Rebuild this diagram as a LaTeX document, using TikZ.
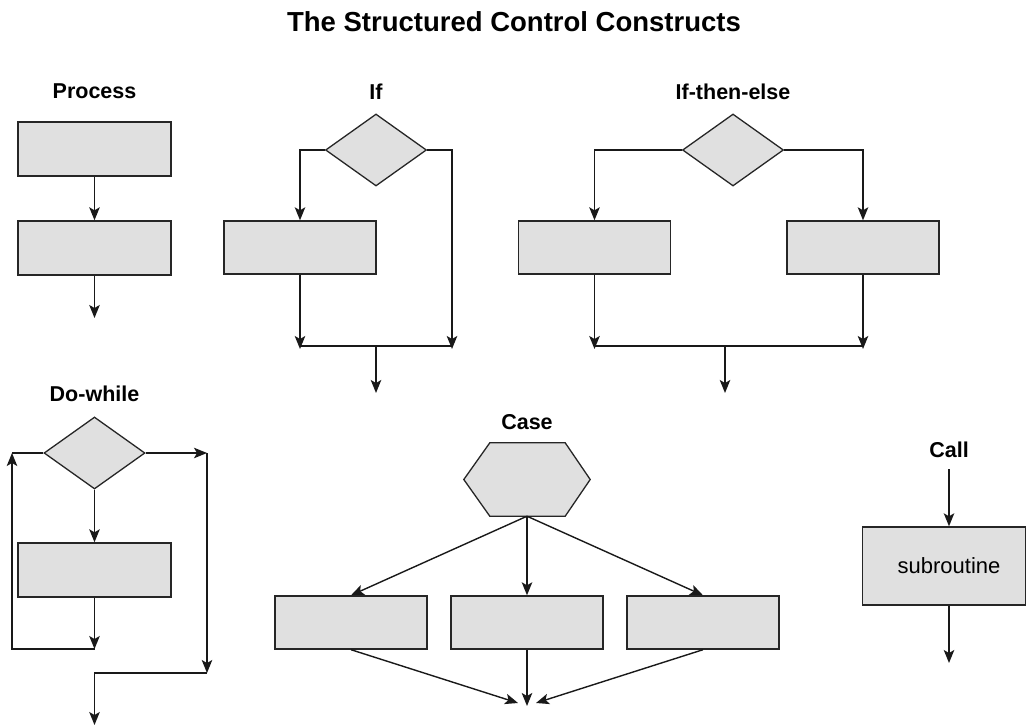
\documentclass[tikz,border=0pt]{standalone}
\usepackage{fontspec}
\setmainfont{Liberation Sans}
\usetikzlibrary{shapes.geometric,arrows.meta,calc}
\tikzset{
  box/.style={draw=black!85, fill=black!12, line width=1.4pt, inner sep=0pt, minimum width=153pt, minimum height=54pt},
  dec/.style={draw=black!85, fill=black!12, line width=1.3pt, diamond, inner sep=0pt, minimum width=101pt, minimum height=72pt},
  ln/.style={draw=black!90, line width=1.4pt},
  arr/.style={ln, -{Stealth[length=13pt,width=10.5pt,inset=3pt]}},
  ttl/.style={font=\fontsize{27.5}{30}\selectfont\bfseries, inner sep=0pt},
  lbl/.style={font=\fontsize{21.5}{24}\selectfont\bfseries, inner sep=0pt},
}
\begin{document}
\begin{tikzpicture}[x=1pt,y=-1pt]
\useasboundingbox (0,0) rectangle (1027,727);
% title
\node[ttl] (title) at (514,21.5) {The Structured Control Constructs};

% Process
\node[lbl] (lproc) at (94.5,91.5) {Process};
\node[box] (p1) at (94.5,149) {};
\node[box] (p2) at (94.5,248) {};
\coordinate (pout) at (94.5,318);
\draw[arr] (p1.south) -- (p2.north);
\draw[arr] (p2.south) -- (pout);

% If
\node[lbl] (lif) at (376,92) {If};
\node[dec] (ifd) at (376,150) {};
\node[box, minimum width=152pt, minimum height=53pt] (ifb) at (300,247.5) {};
\coordinate (ifjl) at (300,346);
\coordinate (ifjr) at (452,346);
\coordinate (ifjm) at (376,346);
\coordinate (ifout) at (376,393);
\draw[arr] (ifd.west) -| (ifb.north);
\draw[arr] (ifd.east) -| ([yshift=-3pt]ifjr);
\draw[arr] (ifb.south) -- ([yshift=-3pt]ifjl);
\draw[ln] (ifjl) -- (ifjr);
\draw[arr] (ifjm) -- (ifout);

% If-then-else
\node[lbl] (lite) at (733,92) {If-then-else};
\node[dec] (ited) at (733,150) {};
\node[box, minimum width=152pt, minimum height=53pt] (itel) at (594.5,247.5) {};
\node[box, minimum width=152pt, minimum height=53pt] (iter) at (863,247.5) {};
\coordinate (itejl) at (594.5,346);
\coordinate (itejr) at (863,346);
\coordinate (itejm) at (725,346);
\coordinate (iteout) at (725,393);
\draw[arr] (ited.west) -| (itel.north);
\draw[arr] (ited.east) -| (iter.north);
\draw[arr] (itel.south) -- ([yshift=-3pt]itejl);
\draw[arr] (iter.south) -- ([yshift=-3pt]itejr);
\draw[ln] (itejl) -- (itejr);
\draw[arr] (itejm) -- (iteout);

% Do-while
\node[lbl] (ldw) at (94.5,394) {Do-while};
\node[dec] (dwd) at (94.5,453) {};
\node[box] (dwb) at (94.5,570) {};
\coordinate (dwloop) at (94.5,649);
\coordinate (dwlb) at (12,649);
\coordinate (dwlt) at (12,453);
\coordinate (dwrt) at (207,453);
\coordinate (dwrb) at (207,673);
\coordinate (dwm) at (94.5,673);
\coordinate (dwout) at (94.5,725);
\draw[arr] (dwd.south) -- (dwb.north);
\draw[arr] (dwb.south) -- (dwloop);
\draw[arr] (dwloop) -- (dwlb) -- (dwlt);
\draw[ln] (dwlt) -- (dwd.west);
\draw[arr] (dwd.east) -- (dwrt);
\draw[arr] (dwrt) -- (dwrb);
\draw[arr] (dwrb) -- (dwm) -- (dwout);

% Case
\node[lbl] (lcase) at (527,422) {Case};
\node[minimum width=126pt, minimum height=73pt, inner sep=0pt] (hex) at (527,479.5) {};
\filldraw[draw=black!85, fill=black!12, line width=1.3pt]
  (hex.west) -- ([xshift=26pt]hex.north west) -- ([xshift=-25pt]hex.north east) -- (hex.east)
  -- ([xshift=-25pt]hex.south east) -- ([xshift=26pt]hex.south west) -- cycle;
\node[box, minimum width=152pt, minimum height=53pt] (c1) at (351,622.5) {};
\node[box, minimum width=152pt, minimum height=53pt] (c2) at (527,622.5) {};
\node[box, minimum width=152pt, minimum height=53pt] (c3) at (703,622.5) {};
\coordinate (cl) at (518,703);
\coordinate (cm) at (527,706);
\coordinate (cr) at (536,703);
\draw[arr] (hex.south) -- (c1.north);
\draw[arr] (hex.south) -- (c2.north);
\draw[arr] (hex.south) -- (c3.north);
\draw[arr] (c1.south) -- (cl);
\draw[arr] (c2.south) -- (cm);
\draw[arr] (c3.south) -- (cr);

% Call
\node[lbl] (lcall) at (949,450) {Call};
\coordinate (callin) at (949,469);
\node[box, minimum width=163pt, minimum height=78pt, font=\fontsize{22}{26}\selectfont] (call) at (944,566) {\hspace*{10pt}subroutine};
\coordinate (callout) at (949,663);
\draw[arr] (callin) -- ([xshift=5pt]call.north);
\draw[arr] ([xshift=5pt]call.south) -- (callout);
\end{tikzpicture}
\end{document}
